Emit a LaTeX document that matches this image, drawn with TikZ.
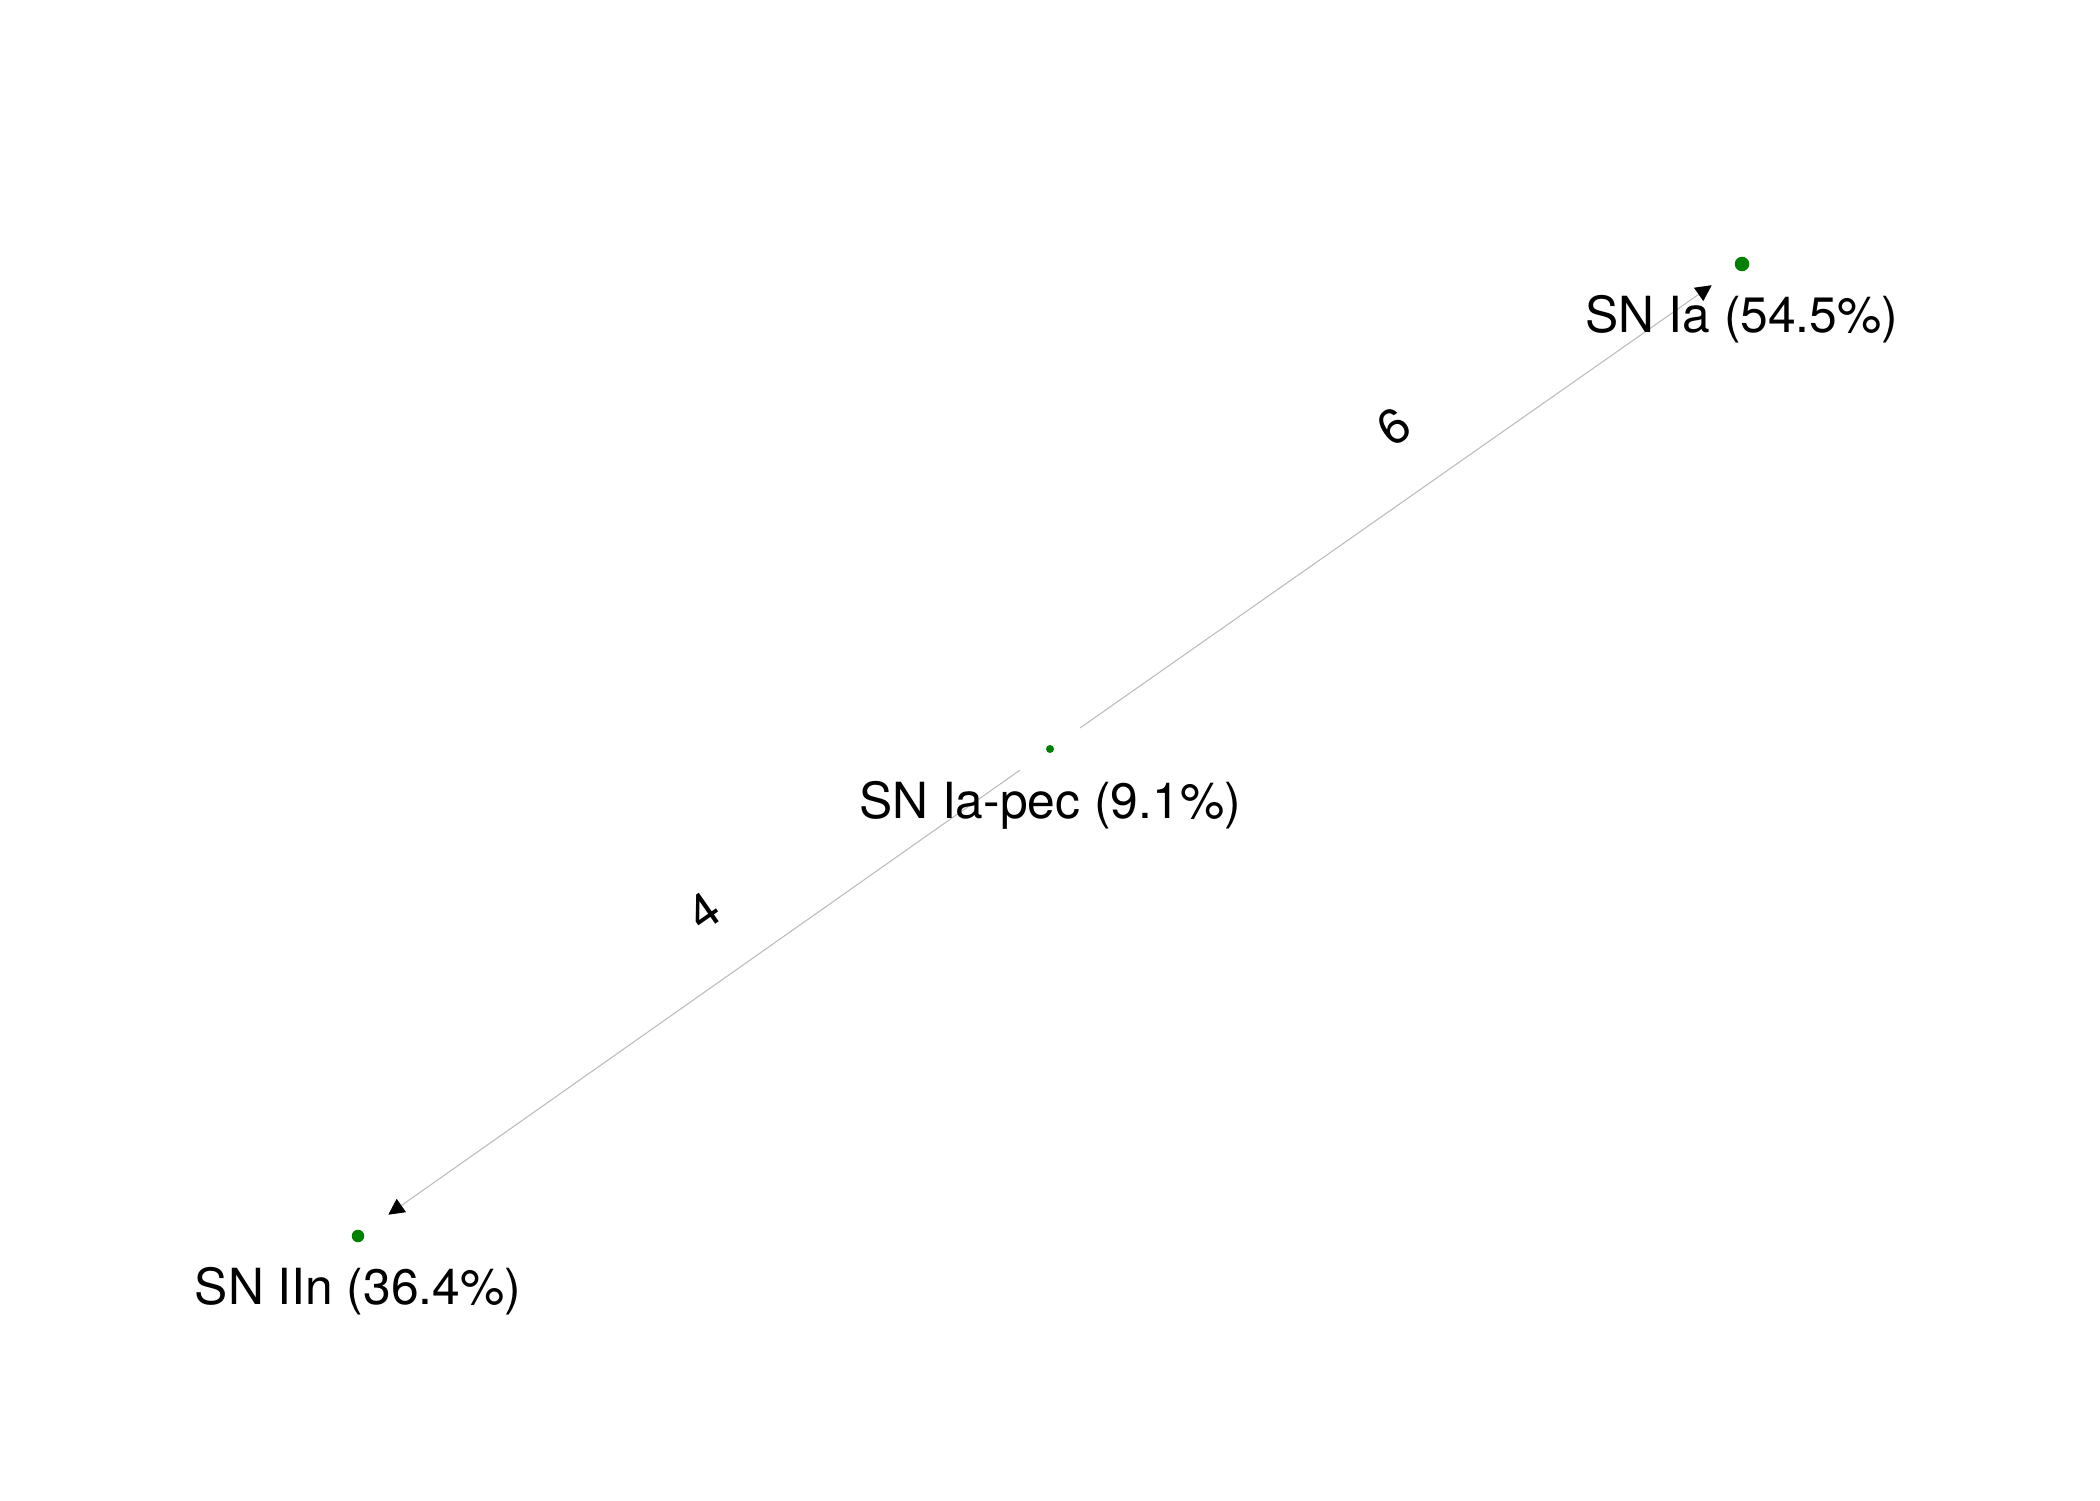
\documentclass[tikz,border=0pt]{standalone}
\usepackage{fontspec}
\setmainfont{TeX Gyre Heros}
\usetikzlibrary{arrows.meta}
\definecolor{mplgreen}{HTML}{008000}
\definecolor{edgegray}{HTML}{BBBBBB}
\begin{document}
\begin{tikzpicture}[x=0.01cm,y=-0.01cm,
  dot/.style={circle, fill=mplgreen, draw=none, inner sep=0pt},
  lbl/.style={font=\fontsize{14.15}{16}\selectfont, anchor=base, inner sep=0pt},
  elbl/.style={font=\fontsize{14}{16}\selectfont, rotate=35, inner sep=0pt},
  link/.style={draw=edgegray, line width=0.3pt, -{Triangle[length=0.16cm, width=0.16cm, fill=black, color=black]}}]
\useasboundingbox (0,0) rectangle (2100,1500);
\node[dot, minimum size=0.145cm] (ia) at (1742,264) {};
\node[dot, minimum size=0.08cm] (pec) at (1050,749) {};
\node[dot, minimum size=0.125cm] (iin) at (358,1236) {};
\draw[link, shorten <=0.32cm, shorten >=0.29cm] (pec) -- (ia);
\draw[link, shorten <=0.32cm, shorten >=0.30cm] (pec) -- (iin);
\node[lbl] (lia) at (1742,332) {SN Ia (54.5\%)};
\node[lbl] (lpec) at (1050,818) {SN Ia-pec (9.1\%)};
\node[lbl] (liin) at (358,1304) {SN IIn (36.4\%)};
\node[elbl] (e6) at (1394,427) {6};
\node[elbl] (e4) at (704,911) {4};
\end{tikzpicture}
\end{document}
